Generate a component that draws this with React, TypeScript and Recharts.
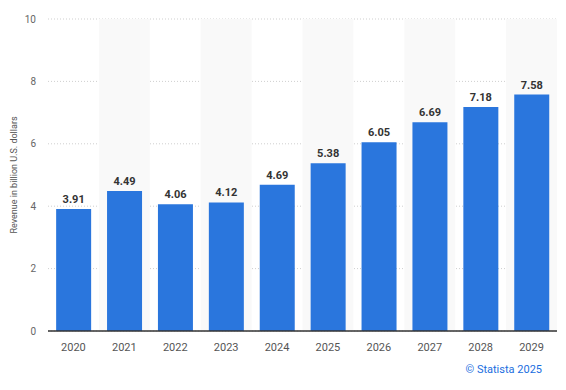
import { BarChart, Bar, XAxis, YAxis, CartesianGrid, ReferenceArea, LabelList } from 'recharts';

const YEARS = ['2020', '2021', '2022', '2023', '2024', '2025', '2026', '2027', '2028', '2029'];
const REVENUE = [3.91, 4.49, 4.06, 4.12, 4.69, 5.38, 6.05, 6.69, 7.18, 7.58];
const Y_TICKS = [0, 2, 4, 6, 8, 10];
// every other column gets a light background band
const SHADED = ['2021', '2023', '2025', '2027', '2029'];

const data = YEARS.map((year, i) => ({ year, value: REVENUE[i] }));

const FONT = 'Roboto, "Noto Sans", sans-serif';

const AxisTitle = ({ viewBox }: any) => {
  const cx = 14;
  const cy = viewBox.y + viewBox.height / 2;
  return (
    <text
      x={cx}
      y={cy}
      transform={`rotate(-90 ${cx} ${cy})`}
      textAnchor="middle"
      dominantBaseline="central"
      fontSize={9}
      fill="#555"
      fontFamily={FONT}
    >
      Revenue in billion U.S. dollars
    </text>
  );
};

export default function App() {
  return (
    <div style={{ position: 'absolute', left: 0, top: 0, width: 566, height: 390, background: '#fff', fontFamily: FONT }}>
      <BarChart
        width={566}
        height={390}
        data={data}
        margin={{ top: 19, right: 9, left: 0, bottom: 29 }}
        barCategoryGap="16%"
      >
        {SHADED.map((y) => (
          <ReferenceArea key={y} x1={y} x2={y} y1={0} y2={10} fill="#f9f9f9" fillOpacity={1} stroke="none" ifOverflow="extendDomain" />
        ))}
        <CartesianGrid vertical={false} stroke="#cfcfcf" strokeDasharray="1 2" />
        <XAxis
          dataKey="year"
          tickLine={false}
          axisLine={{ stroke: '#333', strokeWidth: 1.5 }}
          tick={{ fontSize: 11, fill: '#555', fontFamily: FONT }}
          tickMargin={6}
          height={30}
        />
        <YAxis
          domain={[0, 10]}
          ticks={Y_TICKS}
          width={48}
          axisLine={false}
          tickLine={false}
          tickSize={0}
          tickMargin={12}
          tick={{ fontSize: 10, fill: '#666', fontFamily: FONT }}
          label={<AxisTitle />}
        />
        <Bar dataKey="value" fill="#2a76dd" isAnimationActive={false}>
          <LabelList
            dataKey="value"
            position="top"
            offset={6}
            formatter={(v: any) => Number(v).toFixed(2)}
            style={{ fontSize: 11, fontWeight: 700, fill: '#333', fontFamily: FONT }}
          />
        </Bar>
      </BarChart>
      <div style={{ position: 'absolute', right: 24, top: 363, fontSize: 11, color: '#1a6ee0' }}>© Statista 2025</div>
    </div>
  );
}
